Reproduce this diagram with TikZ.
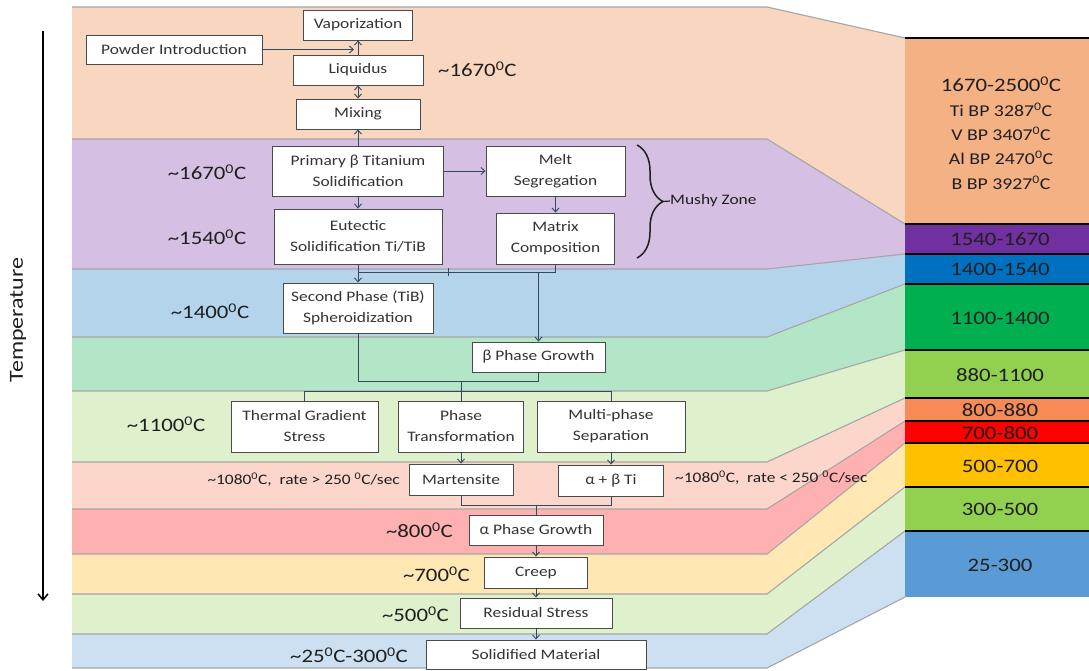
\documentclass[tikz,border=0pt]{standalone}
\usepackage{fontspec}
\setmainfont{Carlito}[FakeStretch=1.2]
\newfontfamily\greekfont{Lato}[FakeStretch=1.1]
\usetikzlibrary{arrows.meta,decorations.pathreplacing}

% small helpers for the labels
\newcommand{\degz}{\textsuperscript{0}}
\newcommand{\tld}{\textasciitilde}
\newcommand{\grA}{{\greekfont α}}
\newcommand{\grB}{{\greekfont β}}
\newcommand{\bxfont}{\fontsize{14.5}{21}\selectfont}
\newcommand{\tmpfont}{\fontsize{19}{22}\selectfont}

% band colours (left, pale)
\definecolor{bPeach}{HTML}{F8D6C0}
\definecolor{bPurple}{HTML}{D5C0E4}
\definecolor{bBlue}{HTML}{B4D4EC}
\definecolor{bMint}{HTML}{B2E6C7}
\definecolor{bGreen}{HTML}{DEF0CC}
\definecolor{bSalmon}{HTML}{FCD6CA}
\definecolor{bPink}{HTML}{FEB1B0}
\definecolor{bYellow}{HTML}{FFE8B3}
\definecolor{bSky}{HTML}{CCE0F2}
% temperature scale colours (right)
\definecolor{cOrange}{HTML}{F4B183}
\definecolor{cPurple}{HTML}{7030A0}
\definecolor{cBlue}{HTML}{0070C0}
\definecolor{cGreen}{HTML}{00B050}
\definecolor{cLime}{HTML}{92D050}
\definecolor{cTang}{HTML}{F68B57}
\definecolor{cRed}{HTML}{FF0000}
\definecolor{cGold}{HTML}{FFC000}
\definecolor{cSteel}{HTML}{5B9BD5}
% lines and text
\definecolor{boxline}{HTML}{4A4A4A}
\definecolor{boxtext}{HTML}{333333}
\definecolor{labtext}{HTML}{1F1F1F}
\definecolor{connc}{HTML}{34495E}
\definecolor{edgec}{HTML}{A6A6A6}

\begin{document}
\begin{tikzpicture}[x=1pt,y=-1pt,
  >={Straight Barb[length=4pt,width=7pt]},
  box/.style={draw=boxline, fill=white, line width=0.9pt, text=boxtext,
    font=\bxfont, align=center, inner sep=1pt},
  sz/.style 2 args={minimum width=#1, minimum height=#2},
  conn/.style={draw=connc, line width=0.9pt},
  tlab/.style={font=\tmpfont, text=labtext, inner sep=0pt},
  rlab/.style={font=\fontsize{14.5}{17}\selectfont, text=labtext, inner sep=0pt},
  clab/.style={font=\fontsize{19}{22}\selectfont, text=labtext, inner sep=0pt},
  bplab/.style={font=\fontsize{16.5}{19}\selectfont, text=labtext, inner sep=0pt},
  bandedge/.style={draw=edgec, line width=1.1pt},
  colrule/.style={draw=black, line width=1.5pt}]

\useasboundingbox (0,0) rectangle (1089,670);
\fill[white] (0,0) rectangle (1089,670);

% temperature bands
\fill[bPeach]  (72,7)   -- (767,7)   -- (905,38)  -- (905,224) -- (767,139) -- (72,139) -- cycle;
\fill[bPurple] (72,139) -- (767,139) -- (905,224) -- (905,254) -- (767,269) -- (72,269) -- cycle;
\fill[bBlue]   (72,269) -- (767,269) -- (905,254) -- (905,284) -- (767,337) -- (72,337) -- cycle;
\fill[bMint]   (72,337) -- (767,337) -- (905,284) -- (905,350) -- (767,391) -- (72,391) -- cycle;
\fill[bGreen]  (72,391) -- (767,391) -- (905,350) -- (905,398) -- (767,462) -- (72,462) -- cycle;
\fill[bSalmon] (72,462) -- (767,462) -- (905,398) -- (905,421) -- (767,509) -- (72,509) -- cycle;
\fill[bPink]   (72,509) -- (767,509) -- (905,421) -- (905,443) -- (767,554) -- (72,554) -- cycle;
\fill[bYellow] (72,554) -- (767,554) -- (905,443) -- (905,487) -- (767,594) -- (72,594) -- cycle;
\fill[bGreen]  (72,594) -- (767,594) -- (905,487) -- (905,531) -- (767,634) -- (72,634) -- cycle;
\fill[bSky]    (72,634) -- (767,634) -- (905,531) -- (905,597) -- (767,668) -- (72,668) -- cycle;
\foreach \l/\c in {7/38,139/224,269/254,337/284,391/350,462/398,509/421,554/443,594/487,634/531,668/597}
  \draw[bandedge] (72,\l) -- (767,\l) -- (905,\c);

% temperature scale column
\fill[cOrange] (905,38)  rectangle (1089,224);
\fill[cPurple] (905,224) rectangle (1089,254);
\fill[cBlue]   (905,254) rectangle (1089,284);
\fill[cGreen]  (905,284) rectangle (1089,350);
\fill[cLime]   (905,350) rectangle (1089,398);
\fill[cTang]   (905,398) rectangle (1089,421);
\fill[cRed]    (905,421) rectangle (1089,443);
\fill[cGold]   (905,443) rectangle (1089,487);
\fill[cLime]   (905,487) rectangle (1089,531);
\fill[cSteel]  (905,531) rectangle (1089,597);
\foreach \y in {38,224,254,284,350,398,421,443,487,531}
  \draw[colrule] (905,\y) -- (1089,\y);

\node[clab]  (r1)  at (1001,84)  {1670-2500\degz C};
\node[bplab] (r1a) at (1001,110) {Ti BP 3287\degz C};
\node[bplab] (r1b) at (1001,134) {V BP 3407\degz C};
\node[bplab] (r1c) at (1001,158) {Al BP 2470\degz C};
\node[bplab] (r1d) at (1001,183) {B BP 3927\degz C};
\node[clab]  (r2)  at (1000,239) {1540-1670};
\node[clab]  (r3)  at (1000,269) {1400-1540};
\node[clab]  (r4)  at (1000,318) {1100-1400};
\node[clab]  (r5)  at (1000,375) {880-1100};
\node[clab]  (r6)  at (1000,410) {800-880};
\node[clab]  (r7)  at (1000,433) {700-800};
\node[clab]  (r8)  at (1000,466) {500-700};
\node[clab]  (r9)  at (1000,509) {300-500};
\node[clab]  (r10) at (1000,565) {25-300};

% temperature axis
\coordinate (axTop) at (43,31);
\coordinate (axBot) at (43,601);
\draw[line width=1.5pt, -{Straight Barb[length=6pt,width=10pt]}] (axTop) -- (axBot);
\node[rotate=90, font=\fontsize{20}{24}\selectfont, text=labtext] (axlab) at (18,320) {Temperature};

% process boxes
\node[box, sz={109pt}{30pt}] (vap)    at (358,25)     {Vaporization};
\node[box, sz={176pt}{29pt}] (powder) at (174,49.5)   {Powder Introduction};
\node[box, sz={130pt}{30pt}] (liq)    at (358,70)     {Liquidus};
\node[box, sz={124pt}{30pt}] (mix)    at (358,114)    {Mixing};
\node[box, sz={171pt}{50pt}] (prim)   at (358,171)    {Primary \grB{} Titanium\\Solidification};
\node[box, sz={139pt}{50pt}] (melt)   at (555.5,171)  {Melt\\Segregation};
\node[box, sz={168pt}{55pt}] (eut)    at (358,236.5)  {Eutectic\\Solidification Ti/TiB};
\node[box, sz={118pt}{51pt}] (mat)    at (555.5,238.5){Matrix\\Composition};
\node[box, sz={150pt}{50pt}] (sec)    at (358,308)    {Second Phase (TiB)\\Spheroidization};
\node[box, sz={133pt}{30pt}] (bpg)    at (538.5,357)  {\grB{} Phase Growth};
\node[box, sz={147pt}{51pt}] (therm)  at (304.5,426.5){Thermal Gradient\\Stress};
\node[box, sz={125pt}{51pt}] (ptrans) at (461,426.5)  {Phase\\Transformation};
\node[box, sz={148pt}{51pt}] (multi)  at (611,426.5)  {Multi-phase\\Separation};
\node[box, sz={104pt}{31pt}] (mart)   at (461,479.5)  {Martensite};
\node[box, sz={105pt}{31pt}] (ab)     at (611,480.5)  {\grA{} + \grB{} Ti};
\node[box, sz={134pt}{30pt}] (apg)    at (536,530)    {\grA{} Phase Growth};
\node[box, sz={103pt}{31pt}] (creep)  at (536,572.5)  {Creep};
\node[box, sz={152pt}{30pt}] (resid)  at (536,613)    {Residual Stress};
\node[box, sz={220pt}{29pt}] (solid)  at (536,654.5)  {Solidified Material};

% temperature labels
\node[tlab, anchor=west] (t1)  at (438,69)  {\tld1670\degz C};
\node[tlab] (t2)  at (207,172) {\tld1670\degz C};
\node[tlab] (t3)  at (207,237) {\tld1540\degz C};
\node[tlab] (t4)  at (210,311) {\tld1400\degz C};
\node[tlab] (t5)  at (166,424) {\tld1100\degz C};
\node[rlab, anchor=east] (t6) at (400,480) {\tld1080\degz C,\ \ rate > 250 \degz C/sec};
\node[rlab, anchor=west] (t7) at (675,478) {\tld1080\degz C,\ \ rate < 250 \degz C/sec};
\node[tlab, anchor=east] (t8)  at (453,530) {\tld800\degz C};
\node[tlab, anchor=east] (t9)  at (470,574) {\tld700\degz C};
\node[tlab, anchor=east] (t10) at (449,614) {\tld500\degz C};
\node[tlab, anchor=east] (t11) at (408,655) {\tld25\degz C-300\degz C};

% mushy zone brace
\coordinate (brTop) at (637,145);
\coordinate (brBot) at (637,258);
\coordinate (brTip) at (663,201.5);
\draw[draw=labtext, line width=1.5pt, decorate, decoration={brace, amplitude=26pt}] (brTop) -- (brBot);
\node[rlab, anchor=west] (mushy) at (670,201) {Mushy Zone};
\draw[draw=labtext, line width=1.2pt] (brTip) -- (mushy.west);

% connectors, top block
\coordinate (pin) at (354,49.5);
\draw[conn, ->] (powder.east) -- (pin);
\draw[conn, ->] (liq.north) -- (vap.south);
\draw[conn, <->] (mix.north) -- (liq.south);
\draw[conn, ->] (prim.north) -- (mix.south);
\draw[conn, ->] (prim.east) -- (melt.west);
\draw[conn, ->] (prim.south) -- (eut.north);
\draw[conn, ->] (melt.south) -- (mat.north);

% connectors, mushy zone to solid state
\coordinate (busA) at (555.5,272);
\coordinate (tick) at (448,272);
\draw[conn, ->] (eut.south) -- (sec.north);
\draw[conn] (mat.south) -- (busA) -- (eut.south |- busA);
\draw[conn, ->] (bpg.north |- busA) -- (bpg.north);
\draw[conn] ([yshift=4pt]tick) -- ([yshift=-4pt]tick);

\coordinate (busB) at (461,381);
\coordinate (busC) at (461,391);
\draw[conn] (sec.south) -- (sec.south |- busB) -| (bpg.south);
\draw[conn] (busB) -- (busC);
\draw[conn] (therm.north) -- (therm.north |- busC) -- (multi.north |- busC) -- (multi.north);
\draw[conn] (busC) -- (ptrans.north);

\draw[conn, ->] (ptrans.south) -- (mart.north);
\draw[conn, ->] (multi.south) -- (ab.north);

\coordinate (busD) at (536,505);
\draw[conn] (mart.south) -- (mart.south |- busD) -- (ab.south |- busD) -- (ab.south);
\draw[conn] (busD) -- (apg.north);

\draw[conn, ->] (apg.south) -- (creep.north);
\draw[conn, ->] (creep.south) -- (resid.north);
\draw[conn, ->] (resid.south) -- (solid.north);

\end{tikzpicture}
\end{document}
